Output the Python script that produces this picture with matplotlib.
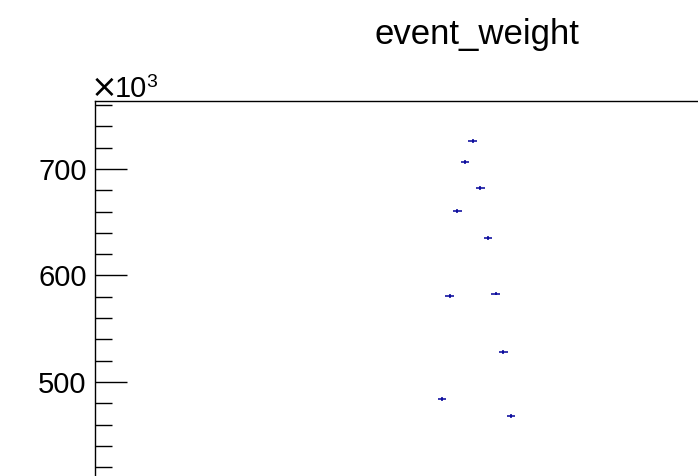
import numpy as np
import matplotlib
matplotlib.use("Agg")
import matplotlib.pyplot as plt
from matplotlib.ticker import FixedLocator, MultipleLocator

plt.rcParams['font.family'] = ['Liberation Sans', 'DejaVu Sans']

# data (bin centers, counts and their errors)
bin_centers = [45.5, 46.5, 47.5, 48.5, 49.5, 50.5, 51.5, 52.5, 53.5, 54.5]
counts = [484000, 581000, 660500, 706300, 726300, 682000, 635000, 583000, 528000, 468000]
count_errors = [1800, 1800, 1800, 1800, 1800, 1800, 1800, 1800, 1800, 1800]
y_major_ticks = [500, 600, 700]
title = "event_weight"

x = np.array(bin_centers)
y = np.array(counts, dtype=float)
yerr = np.array(count_errors, dtype=float)

W, H = 698, 476
fig = plt.figure(figsize=(W / 100, H / 100), dpi=100)

ax_left, ax_top, ax_w, ax_h = 95, 101, 767, 459
ax = fig.add_axes([ax_left / W, 1 - (ax_top + ax_h) / H, ax_w / W, ax_h / H])

scale = 1000.0
ax.errorbar(x, y / scale, xerr=0.55, yerr=yerr / scale, fmt='none',
            ecolor='#000099', elinewidth=1.1, capsize=0)

y_top = 763.8
px_per_unit = 1.065
ax.set_ylim(y_top - ax_h / px_per_unit, y_top)
x_lo = 0.26
ax.set_xlim(x_lo, x_lo + ax_w / 7.67)

ax.yaxis.set_major_locator(FixedLocator(y_major_ticks))
ax.yaxis.set_minor_locator(MultipleLocator(20))
ax.tick_params(axis='y', which='major', direction='in', length=23, width=1,
               labelsize=21, pad=6)
ax.tick_params(axis='y', which='minor', direction='in', length=12, width=1)
ax.tick_params(axis='x', which='both', bottom=False, labelbottom=False)
for s in ax.spines.values():
    s.set_linewidth(1)

# exponent label "×10^3"
fig.text(91 / W, 1 - 97 / H, "×", fontsize=23, family='DejaVu Sans', ha='left', va='baseline')
fig.text(115 / W, 1 - 97 / H, "10", fontsize=21, ha='left', va='baseline')
fig.text(146 / W, 1 - 87 / H, "3", fontsize=14, ha='left', va='baseline')

fig.text(477 / W, 1 - 44 / H, title, fontsize=25, ha='center', va='baseline')

fig.savefig("out.png", dpi=100)
